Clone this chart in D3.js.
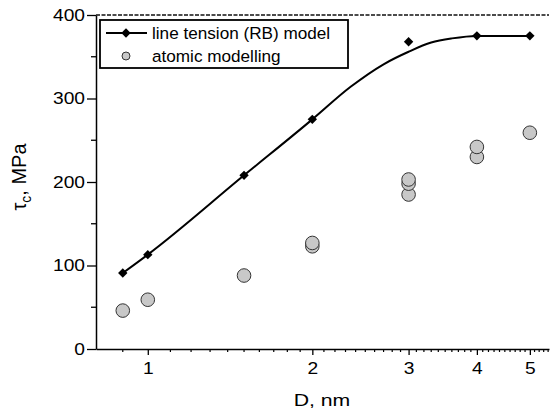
<!DOCTYPE html>
<html>
<head>
<meta charset="utf-8">
<script src="https://cdn.jsdelivr.net/npm/d3@7"></script>
<style>
  body { margin: 0; background: #fff; }
  svg, svg text { font-family: "Liberation Sans", Arial, sans-serif; }
</style>
</head>
<body>
<div id="chart"></div>
<script>
// diameters, nm
let modelD = [0.9, 1, 1.5, 2, 3, 4, 5]
// line tension (RB) model, MPa
let modelTau = [91, 113, 208, 275, 368, 375, 375]

// smooth fitted curve
let curveD = [0.9, 1, 1.5, 2, 2.35, 2.7, 3, 3.3, 3.6, 4, 5]
let curveTau = [91, 113, 208, 275, 314, 341, 356, 367, 372, 375, 375]

// atomic modelling points
let atomD = [0.9, 1, 1.5, 2, 2, 3, 3, 3, 4, 4, 5]
let atomTau = [46, 59, 88, 123, 127, 185, 198, 203, 230, 242, 259]

let xTicks = [1, 2, 3, 4, 5]
let yTicks = [0, 100, 200, 300, 400]
let yMinor = [50, 150, 250, 350]

let plotL = 96, plotR = 549, plotT = 15, plotB = 349

let svg = d3.select("#chart")
    .append("svg")
    .attr("width", 550)
    .attr("height", 414)

let xScale = d3.scaleLog()
    .domain([0.804, 5.42])
    .range([plotL, plotR])

let yScale = d3.scaleLinear()
    .domain([0, 400])
    .range([plotB, plotT])

// minor ticks every 0.1 nm
let xMinor = d3.range(9, 55).map(d => d / 10).filter(d => xTicks.indexOf(d) < 0)

// bottom axis
let xAxis = d3.axisBottom(xScale).tickValues(xTicks).tickFormat(d3.format("d"))
    .tickSizeInner(6).tickSizeOuter(0).tickPadding(8)
let gx = svg.append("g")
    .attr("transform", `translate(0,${plotB})`)
    .call(xAxis)
gx.attr("font-family", null)
gx.selectAll("text")
    .style("font-size", "16px").attr("fill", "#000")
    .attr("transform", "scale(1.2,1)")
gx.select(".domain").attr("stroke-width", 1.5)
gx.selectAll(".tick line").attr("stroke-width", 1.3)

svg.append("g")
    .attr("transform", `translate(0,${plotB})`)
    .selectAll("line")
    .data(xMinor).enter()
    .append("line")
    .attr("x1", d => xScale(d)).attr("x2", d => xScale(d))
    .attr("y1", 0).attr("y2", 3)
    .attr("stroke", "#000").attr("stroke-width", 1.2)

// left axis
let yAxis = d3.axisLeft(yScale).tickValues(yTicks)
    .tickSizeInner(9).tickSizeOuter(0)
let gy = svg.append("g")
    .attr("transform", `translate(${plotL},0)`)
    .call(yAxis)
gy.attr("font-family", null)
gy.selectAll("text")
    .style("font-size", "16px").attr("fill", "#000")
    .attr("x", -11 / 1.2)
    .attr("transform", "scale(1.2,1)")
gy.select(".domain").attr("stroke-width", 1.5)
gy.selectAll(".tick line").attr("stroke-width", 1.3)

svg.append("g")
    .attr("transform", `translate(${plotL},0)`)
    .selectAll("line")
    .data(yMinor).enter()
    .append("line")
    .attr("x1", -5).attr("x2", 0)
    .attr("y1", d => yScale(d)).attr("y2", d => yScale(d))
    .attr("stroke", "#000").attr("stroke-width", 1.3)

// dashed top frame
svg.append("line")
    .attr("x1", plotL).attr("x2", plotR)
    .attr("y1", plotT).attr("y2", plotT)
    .attr("stroke", "#111").attr("stroke-width", 1.6)
    .attr("stroke-dasharray", "4,1.5")

// axis labels
svg.append("text")
    .attr("transform", "translate(322,406) scale(1.25,1)")
    .attr("text-anchor", "middle")
    .style("font-size", "17px")
    .text("D, nm")

let yl = svg.append("text")
    .attr("transform", "translate(26,177) rotate(-90)")
    .attr("text-anchor", "middle")
    .style("font-size", "20px")
yl.append("tspan").text("τ")
yl.append("tspan").attr("dy", 5).style("font-size", "14px").text("c")
yl.append("tspan").attr("dy", -5).text(", MPa")

// atomic modelling circles
svg.append("g")
    .selectAll("circle")
    .data(atomD).enter()
    .append("circle")
    .attr("cx", d => xScale(d))
    .attr("cy", (d, i) => yScale(atomTau[i]))
    .attr("r", 6.8)
    .attr("fill", "#c8c8c8")
    .attr("stroke", "#333")
    .attr("stroke-width", 1)

// fitted line
let line = d3.line()
    .x(d => xScale(d[0]))
    .y(d => yScale(d[1]))
    .curve(d3.curveMonotoneX)

svg.append("path")
    .datum(d3.zip(curveD, curveTau))
    .attr("d", line)
    .attr("fill", "none")
    .attr("stroke", "#000")
    .attr("stroke-width", 2)

let diamond = d3.symbol().type(d3.symbolSquare).size(44)

svg.append("g")
    .selectAll("path")
    .data(modelD).enter()
    .append("path")
    .attr("d", diamond)
    .attr("transform", (d, i) => `translate(${xScale(d)},${yScale(modelTau[i])}) rotate(45)`)
    .attr("fill", "#000")

// legend
let lg = svg.append("g")
lg.append("rect")
    .attr("x", 100).attr("y", 20)
    .attr("width", 248).attr("height", 48)
    .attr("fill", "#fff")
    .attr("stroke", "#000").attr("stroke-width", 1.8)
lg.append("line")
    .attr("x1", 106).attr("x2", 147)
    .attr("y1", 33).attr("y2", 33)
    .attr("stroke", "#000").attr("stroke-width", 2)
lg.append("path")
    .attr("d", diamond)
    .attr("transform", "translate(126,33) rotate(45)")
    .attr("fill", "#000")
lg.append("circle")
    .attr("cx", 126).attr("cy", 56).attr("r", 4)
    .attr("fill", "#c8c8c8").attr("stroke", "#333").attr("stroke-width", 1)
lg.append("text")
    .attr("transform", "translate(152,39) scale(1.1,1)")
    .style("font-size", "15.6px")
    .text("line tension (RB) model")
lg.append("text")
    .attr("transform", "translate(152,61.5) scale(1.1,1)")
    .style("font-size", "15.6px")
    .text("atomic modelling")
</script>
</body>
</html>
